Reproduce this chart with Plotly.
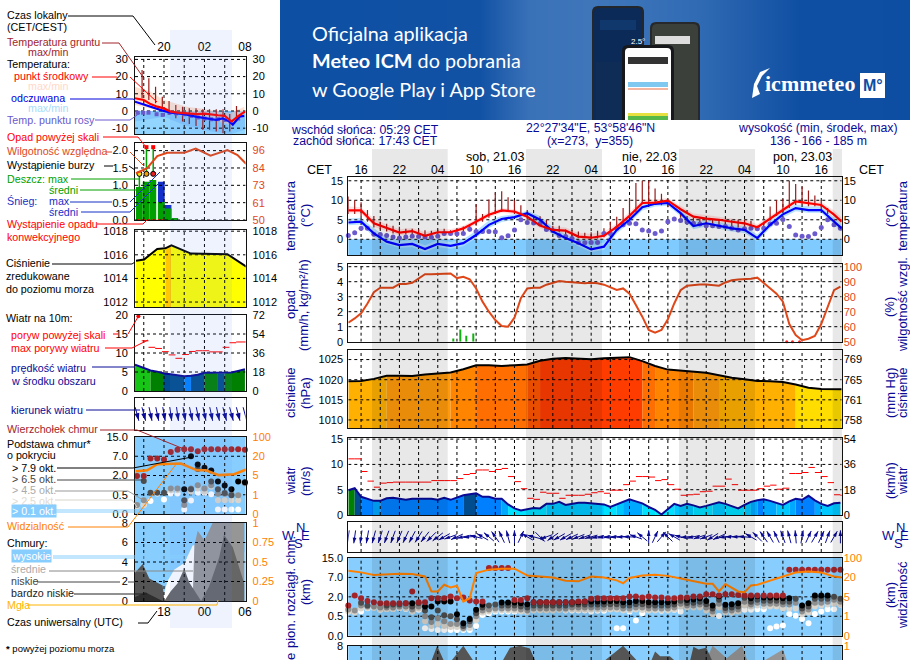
import math
import plotly.graph_objects as go

# ---------- time bases ----------
T1 = list(range(14, 92))                      # hourly, hours since 20.03 00:00 CET
T2 = list(range(14, 92, 2)) + [91.2]          # two-hourly readings
H1 = list(range(16, 33))                      # left legend panel, hours

# ---------- main chart series ----------
temp_mid = [7.4,7.4,4.1,2.8,1.7,2.1,0.9,1.8,1.8,2.8,4.5,6.3,7.4,7.1,5.8,3.5,2.4,2.2,0.7,0.4,0.9,3.2,6.0,9.3,9.4,9.9,7.7,5.8,5.3,5.0,4.5,4.1,3.1,5.4,7.5,9.7,9.3,8.8,6.3,4.5]
temp_max = [8.4,8.2,5.3,3.8,2.6,2.9,1.8,2.6,2.6,3.5,5.2,7,8,7.7,6.5,4.4,3.3,3,1.6,1.4,1.9,4.1,7,10.2,10.2,10.6,8.6,6.6,6.2,5.8,5.3,4.9,3.9,6.2,8.3,10.4,10.1,9.6,7.4,5.6]
temp_min = [6.6,6.6,3.2,2,1,1.3,0,1,1,2,3.8,5.6,6.8,6.4,5.1,2.8,1.6,1.4,-.1,-.4,.1,2.4,5.2,8.6,8.8,9.2,6.8,4.9,4.5,4.2,3.7,3.3,2.4,4.7,6.8,9,8.6,8,5.4,3.7]
feel_mid = [4.3,4.5,1.5,-0.6,-1.5,-1.2,-2.5,-1.2,-1.7,-1,1.1,3.7,5.2,5.7,6.7,5,2,0.3,-1,-2.6,-1.9,2.4,5,8.2,9.1,9.3,6.7,3.4,4.1,3.5,2.8,2.4,0.3,3.7,6.4,8,7.5,7.5,4.5,2.8]
feel_max = [5.3,5.5,2.8,0.5,-.5,-.2,-1.5,-.2,-.7,0,2.2,4.8,6,6.4,7.3,6,3,1.3,0,-1.5,-.8,3.5,6,9,9.5,9.7,7.5,4.6,4.9,4.4,3.7,3.3,1.2,4.8,7.2,8.9,8.5,8.4,5.6,3.8]
feel_min = [3.6,3.8,.6,-1.3,-2.2,-2,-3.3,-2,-2.4,-1.8,.3,2.9,4.4,5,6,4,1.2,-.5,-1.8,-3.3,-2.7,1.5,4.2,7.4,8.4,8.6,5.9,2.6,3.3,2.7,2,1.6,-.5,2.9,5.6,7.2,6.8,6.8,3.7,2]
dew = [1.0,1.7,2.8,2.8,1.3,1.2,1.0,0.6,0.3,0.6, 0.8,0.7,0.6,0.5,0.8,1.5,1.5,1.4,1.5,2.6,
       2.0,2.0,2.0,1.9,0.4,0.9,2.4,5.0,4.3,4.2, 4.0,2.5,2.2,1.0,0.7,0.2,-0.8,-0.9,-0.8,-0.8,
       1.5,1.5,2.8,3.7,4.1,4.0,2.4,2.1,1.5,2.1, 4.5,5.2,4.8,4.4,4.1,3.9,3.5,3.5,3.3,3.3,
       2.8,2.4,2.7,2.8,2.7,2.8,3.9,4.1,5.1,3.3, 1.1,0.8,0.7,1.4,3.0,5.0,3.7,2.8]
soil_max = [11,10,9.5,7.5,6,4.5,4,3.5,3.2,2.7, 2.7,2.5,2.3,2.2,2.3,2.7,2.3,2.6,3.3,3.5,
            9,6.5,10.2,12,12.3,10.8,10,8.7,7.5,6, 5.9,5,3.5,3.5,2.5,2.4,2,1.7,1.8,2.2,
            2.8,4.5,5.8,8,10.5,14.4,15,15,13,11.7, 9,7,6.5,5.5,5.5,5.3,5.2,5.1,5,5,
            5,5,5,4.7,3.5,4.5,8.4,10,10.3,15, 14.2,13.5,12.5,11.2,10,8,5,3.3]
soil_min = [6.5,6.5,6,4.5,3,2.5,2,1.5,1.2,1.2, 1.2,0.7,0.5,0.7,1,1,1,1.5,1.8,2,
            3.5,4.5,5.5,6.5,7,7,6.5,6,5,4, 3.5,2.5,2,1.8,1,0.5,0.3,0.3,0,0.2,
            0.5,1.5,2.5,4,5.5,7,9,9,9,8.7, 8.2,7,5.5,5,4.5,4.2,4,3.8,3.5,3.3,
            3.2,3,2.8,2.5,2.5,3.2,5,6,7,8, 8.8,9,8.5,8.5,7.5,6.5,4.5,3.3]
humidity = [62.7,65.5,69,75.5,83,86,86,86,88.5,88.5, 89.3,92,95,95,95,95.2,95.5,92.4,93.3,91.6,
            85.5,76.7,70,64.4,60.4,60,66,79,85.5,86, 86,88,89.5,90.5,90,89.5,89.5,89,89.3,89,
            88,86,84.5,85.5,82,74.4,66.7,57.8,56,57.8, 65,75.5,84.4,87.3,87.8,88.2,88.2,87.8,87.3,89.5,
            91,91.5,91.5,92,92.7,89,85.5,82,76.7,61.8, 54.4,51,52,53.8,61.8,73.3,84.4,86.7]
rain_t = [30.4, 31.5, 32.4, 33.5]
rain_v = [0.22, 0.82, 0.4, 0.55]
conv_t = [82.6, 83.5, 84.6]
conv_v = [0, 0, 0]
pressure = [1019.6,1019.7,1020.2,1021.0,1021.0,1020.9,1021.3,1021.5,1021.8,1022.6,1023.6,1023.6,1023.4,1023.6,1023.8,1024.7,1025.2,1025.4,1025.2,1025.1,1025.3,1025.5,1025.6,1024.6,1023.4,1022.5,1022.2,1022,1021.7,1021.1,1020.5,1020.1,1019.7,1019.6,1019.4,1018.8,1018,1017.7,1017.6,1017.6]
wind = [4.9,5.3,3.6,3.2,2.8,2.8,3.3,3.4,3.2,3, 3.2,3.2,3.2,3.2,3,3.4,3,3.4,3.9,4.1,
        4.3,3.6,3.6,3.2,3.2,2.1,1.3,0.9,1.2,1.4, 1.3,2.2,2.2,2.6,2,2.2,2.4,2.4,2.3,2.1,
        2.1,1.6,2.1,2.6,3.1,2.7,2.3,1.6,1,0.1, 1.2,2.2,1.8,2.2,1.9,1.5,1.8,2.1,2.5,2.2,
        1.7,1.3,2,2.6,2.9,3.1,2.8,2.4,2,2.7, 3.2,3,3.8,2.9,2.2,1.8,2.3,2.4]
gust = [11.1,11.1,8.6,6.7,5.5,6.3,6.4,6.5,6.5,6.5, 6.5,6.5,6.5,6.8,6.8,6.8,6.8,7.2,8,8.2,
        8.9,8.9,8.6,9,9.2,7.6,6.6,5.2,3.3,3.1, 4.5,4.3,4.3,3.3,3.9,3.9,3.9,4.1,4.4,4.6,
        4.3,4.9,4.9,6,6.7,7.6,7.6,7.5,6.8,7, 6,5.1,3.9,4,4.1,4.6,4.7,5.7,5.7,7.1,
        6,4.9,4.9,4.9,5.2,5.7,5.9,5.1,5.3,8.2, 8.2,8.4,9.4,8.4,7.6,6.4,4,3.9]
wind_dir = [188,188,188,190,195,198,200,200,203,205, 208,212,218,225,232,240,250,245,258,265,
            285,300,310,325,335,345,0,25,300,285, 135,250,235,240,240,245,248,250,255,258,
            260,262,265,268,272,290,310,0,25,40, 315,300,285,265,258,252,250,238,245,262,
            270,272,275,300,315,325,330,335,340,345, 355,10,25,30,25,20,30,0]
N = None
cloud_top = [1.55,2.07,1.93,1.79,1.72,1.67,1.67,1.67,1.67,1.67, 2.28,1.72,1.72,1.93,1.93,1.93,2.02,1.93,1.97,1.81,
             1.76,1.76,3.48,3.48,3.48,3.48,1.84,1.84,1.93,1.72, 1.72,1.72,1.72,1.72,1.72,1.72,1.76,1.76,1.9,1.93,
             1.93,1.93,1.93,1.93,2.02,2.02,1.97,2.02,1.97,1.97, 1.93,1.93,1.97,1.97,2.02,2.02,2.14,2.14,2.07,2.14,
             2.14,2.1,2.07,2.07,2.07,2.07,2.07,2.07,2.07,3.4, 3.4,3.4,3.4,3.4,3.4,3.4,3.4,3.4]
base_79 = [N,N,N,N,N,N,N,N,N,N, 1.67,N,1.5,1.5,1.76,1.76,1.76,1.1,.64,.86,
           1.33,1.59,N,N,1.71,1.71,1.71,1.67,1.62,1.72, 1.72,1.72,1.72,1.72,1.72,1.72,1.72,1.76,1.76,1.76,
           1.76,1.79,1.79,1.72,1.72,1.79,1.79,1.72,1.72,1.72, 1.72,1.76,N,1.84,1.86,1.93,1.79,1.55,2.03,1.59,
           1.62,1.67,N,1.93,2.03,1.97,1.97,1.97,1.93,1.93, N,1.55,1.67,2.07,2.07,2.07,N,N]
base_65 = [N,N,1.7,1.55,N,N,1.55,1.6,1.6,1.67, 1.5,1.67,1.3,.95,1.3,1.05,1.0,.85,.5,.75,
           1.15,1.45,1.55,1.6,1.55,1.55,1.55,1.5,1.45,1.55, 1.55,1.55,1.55,1.55,1.55,1.6,1.6,1.6,1.6,1.6,
           1.6,1.62,1.62,1.55,1.55,1.62,1.62,1.55,1.55,1.55, 1.55,1.6,1.8,1.68,1.7,1.75,1.62,1.4,1.85,1.42,
           1.45,1.5,1.95,1.75,1.85,1.8,1.8,1.8,1.75,1.75, 1.9,1.4,1.5,1.9,1.9,1.9,2.0,1.9]
base_45 = [1.35,1.3,1.55,1.5,1.5,1.45,1.45,1.45,1.5,1.5, 1.35,1.5,1.0,.7,.9,.75,.6,.6,.4,.55,
           1.0,1.3,1.35,1.4,1.4,1.4,1.4,1.35,1.3,1.4, 1.4,1.4,1.4,1.4,1.4,1.45,1.45,1.45,1.45,1.45,
           1.45,1.45,1.45,1.4,1.4,1.45,1.45,1.4,1.4,1.4, 1.4,1.45,1.65,1.55,1.55,1.6,1.45,1.25,1.65,1.3,
           1.3,1.35,1.75,1.6,1.7,1.65,1.65,1.65,1.6,1.6, 1.7,1.25,1.35,1.7,1.7,1.75,1.85,1.75]
base_25 = [1.25,1.2,1.4,1.42,1.42,1.35,1.38,1.38,1.42,1.4, 1.25,1.4,.75,.5,.6,.5,.45,.45,.35,.4,
           .8,1.2,1.25,1.3,1.3,1.3,1.3,1.25,1.22,1.3, 1.3,1.3,1.3,1.32,1.32,1.35,1.35,1.35,1.35,1.35,
           1.35,1.35,1.35,1.3,1.3,1.35,1.32,1.3,1.3,1.3, 1.3,1.35,1.5,1.45,1.45,1.45,1.3,1.1,1.45,1.2,
           1.2,1.25,1.55,1.5,1.55,1.5,1.5,1.5,1.4,1.4, 1.4,1.1,1.2,1.5,1.55,1.6,1.65,1.6]
base_01 = [1.24,1.29,1.24,1.41,1.45,1.33,1.38,1.38,1.41,1.38, 1.24,1.33,.38,.34,.29,.29,.29,.29,.29,.29,
           .5,1.07,1.16,1.24,1.24,1.24,1.24,1.33,1.24,1.33, 1.33,1.36,1.36,1.36,1.3,1.3,1.3,1.3,1.24,1.29,
           1.29,1.45,.38,.38,1.24,.78,1.16,1.38,1.33,1.29, 1.33,1.33,1.24,1.55,1.55,1.5,1.5,1.29,1.02,1.38,
           1.19,1.29,1.33,1.33,1.36,1.36,.38,.47,.52,1.12, 1.03,.86,.64,1.12,1.24,1.36,1.36,1.59]
vis_t = [14,16,18,20,22,24,26,27,28,29,30,31,32,33,34,36,38,40,42,44,46,48,50,52,54,56,57,58,60,62,64,66,68,70,71,72,73,75,76,77,78,80,82,84,86,88,90,91.2]
vis_v = [3.34,3.26,3.12,3.17,3.19,3.17,3.05,2.28,2.28,2.62,2.48,2.57,1.76,1.93,3.22,3.4,3.45,3.45,3.1,3.05,3,2.83,2.8,3.05,3,2.85,2.7,2.97,3.1,3.14,3.08,2.95,2.8,2.67,2.67,2.28,2.66,2.28,2.24,2.59,2.62,2.85,3.05,3.25,3.3,3.25,3.05,3.0]
low_t = [26,27.05,27.9,28.9,30.2,32,33.5,37.5,38.2,39.3,40.9,42.4,43.2,44.5,53.5,54.2,57,59.1,60.5,61.5,62,62.8,64.3,65,66.5,67.5,68,68.8,70,70.9,72]
low_v = [5,6.5,8,6.5,6.5,8,6.5,5,6.5,7.8,8,7.7,6.5,5,5,6.5,8,6.5,5,6.5,7.4,6.9,6.9,6.5,5,6.5,7.9,7.6,7.8,6.5,5]
mid_t = [69,70,71,73.2,75.6,76.4,78,79.2,82,82.6,84,87.4,88,88.6]
mid_v = [5,6.5,8,6.7,8,6.5,5,6.5,7.6,6.5,5,5,6.6,5]

# ---------- left (legend) panel series ----------
L_temp_h = [15.7,17,18,19,20,21,22,23,24,25,26,27,28,29,30,31,32]
L_temp = [7.4,6.4,4,2.5,1.5,-.4,-1,-1.3,-1.3,-1.8,-1.6,-2.2,-2.5,-2.8,-6.2,-3,-.4]
L_feel_h = [15.7,17.8,19.8,21,23,24.7,26.7,27.7,28.7,29.7,30.2,31.2,31.9]
L_feel = [5.4,2.5,.2,-1,-1.8,-3.3,-4.7,-5.2,-4.3,-6.2,-8,-3.3,-2.9]
L_pink_h = [15.7,18,20,23.4,26.2,29.8,31.9]
L_pink_hi = [14.1,11.2,6.4,2.5,1,-1.4,2.5]
L_pink_lo = [3.5,1.5,-.4,-2,-4.3,-8.1,-3.3]
L_cold_h = [15.7,20,23,27,30,32]
L_cold = [-6.2,-3.3,-8.1,-12,-13.4,-11]
L_soil_h = [16.75,17.75,18.75,19.75,20.75,21.75,22.75,23.75,24.75,25.75,26.75,27.75,28.75,29.75,30.75]
L_soil_hi = [23.8,19,14.1,8.3,5.8,3.5,2.5,1.6,1.6,1,1,1,1,-1.7,2.9]
L_soil_lo = [7.4,6.4,4.5,1,-2.3,-4.3,-6.2,-7.6,-8.7,-11,-11,-12,-13,-12,-6.2]
L_dew_h = [16.1,16.9,17.7,18.9,19.8,20.8,21.8,23,24,25,26,27,28,29,29.9,31]
L_dew = [-1,-1,-1,-1.9,-2.3,-1,-1.4,-1.9,-2.9,-3.8,-4.4,-4.8,-4.8,-5.2,-6.3,-4.4]
L_rain_h = [16.35,17.35,18.35,19.6,20.6,21.6]
L_rain = [.95,1.1,1.15,.52,.33,.05]
L_snow = [N,N,N,1.1,.43,N]
L_storm_h = [16.35,17.4,18.4]
L_storm = [1.33,1.33,1.33]
L_rainmax = [.95,2.1,2.1]
L_over_h = [17.4,18.4]
L_over = [2.1,2.1]
L_conv_h = [16.2,16.7,17.2,17.7,18.2,18.7,19.2,19.7]
L_conv = [0,0,0,0,0,0,0,0]
L_hum_h = [15.85,17.5,19,20.5,23,24.7,26.9,29.4,30.9,32.2]
L_hum = [80.7,84,92,94.2,94.2,97,92.3,96,92.7,86.8]
L_pres_h = [15.85,17.05,19,20.2,21.1,24,29.4,32.2]
L_pres = [1015.5,1015.6,1016.5,1016.55,1016.8,1016.1,1016.05,1015]
L_wind = [6.7,6,5.4,5.1,4.6,4.4,4.1,3.9,4,4.3,4.8,4.8,4.7,4.7,4.85,5.3,5.7]
L_gust_h = [16.7,17.7,18.7,19.7,20.7,21.7,22.7,23.7,24.7,25.7,26.7,27.7,28.7,29.7,30.7,31.7]
L_gust = [13.2,11.5,11.2,10.35,9.5,8.6,9.6,10.4,10.6,10.6,10.3,10.3,11.5,12.7,12.9,12.9]
L_over_w_h = [16.2]
L_over_w = [19.7]
L_dir = [165,165,168,168,170,172,172,170,168,168,168,168,168,165,165,165,165]
L_top = [1.98,1.98,2.88,2.88,2.83,3.22,3.34,3.36,3.36,3.26,3.36,3.36,3.36,3.36,3.36,3.36,3.34]
L_b79 = [N,N,N,N,N,N,N,1.28,3,2.57,2.4,2.26,1.69,1.48,1.28,1.69,1.65]
L_b65 = [N,1.71,1.1,1.1,1.1,N,N,.71,1.28,2.34,N,1.69,1.28,1.09,.97,N,N]
L_b45 = [.47,.72,N,N,N,1.33,1.33,.47,1.33,1.5,1.33,1.5,1.05,1.05,1.03,.98,1.6]
L_b25 = [.4,.47,N,N,N,1.24,1.24,N,1.16,1.33,1.16,1.41,.72,.72,.72,.72,N]
L_b01 = [N,.48,.67,1.07,.75,1.07,1.07,.24,.7,1.1,1.1,1.03,.24,.24,.24,.24,N]
L_vis_h = [15.85,17.5,19,22.5,24.9,26.2,28.1,30.4,32.2]
L_vis = [2.22,2.27,2.59,2.62,2.27,2.27,2.02,2.07,2.31]
L_hi_h = [19.7,20.5,21.5,23,24.25,25,31.9]
L_hi = [0,2,3.2,3.9,5.7,5.8,5]
L_md_h = [24.25,24.5,25,26,27.2,31.9]
L_md = [0,5.7,7.2,6.2,8,8]
L_lw_h = [20.05,21,22,23,23.75,25.5,26.7,28.2,28.9,30.2,31.9]
L_lw = [0,1,1.8,3.3,1.9,0,1.5,4.5,6.8,5.5,1.8]
L_vl_h = [15.7,16.84,17.82,19.8,20.05]
L_vl = [2.9,3.8,2.3,1.6,0]
L_fl_h = [15.7,17.3,17.8,19.8]
L_fl = [.4,.9,.7,0]
L_fog_h = [27.95,28.95,30,31.1]
L_fog = [1,1,1,1]

# ---------- labels ----------
R_day_ticks = [16,22,28,34,40,46,52,58,64,70,76,82,88]
R_day_text = ["16","22","04","10","16","22","04","10","16","22","04","10","16"]
night_bands = [(372,447.7),(526,602),(679,755),(832.7,842)]

FONT = "Liberation Sans"
NAVY = "#0a0a96"
HUM = "#e0481a"
ORANGE = "#ff8000"
SKY = "#87ceff"
BROWN = "#a3252a"
TICK = 11
LEG = 10.7

W, H = 910, 660
def px(x): return x / W
def py(y): return 1 - y / H

fig = go.Figure()
layout = dict(width=W, height=H, margin=dict(l=0, r=0, t=0, b=0, autoexpand=False), showlegend=False,
              paper_bgcolor="white", plot_bgcolor="rgba(0,0,0,0)", hovermode=False,
              barmode="overlay", font=dict(family=FONT, size=12, color="black"))
shapes, annots = [], []
panels = {}

def axname(kind, n): return kind + "axis" + ("" if n == 1 else str(n))
def ref(kind, n): return kind + ("" if n == 1 else str(n))

counter = [0]
def panel(name, x0, x1, top, bottom, xr, yr, xgrid, ygrid, lticks=None, ltext=None,
          rticks=None, rtext=None, rcolor="black", yr2=None, bg=None, lstand=4, rstand=6,
          xside=None, xticks=None, xtext=None, xstand=0):
    counter[0] += 1
    i = counter[0]
    xn, yn, y2n = i, 2 * i, 2 * i + 1
    xa = dict(domain=[px(x0), px(x1)], range=xr, anchor=ref("y", yn), showgrid=False, zeroline=False,
              showline=True, linecolor="#111", linewidth=1, mirror=True, ticks="", ticklen=0,
              showticklabels=False, fixedrange=True)
    if xside:
        xa.update(side=xside, showticklabels=True, tickvals=xticks, ticktext=xtext, tickangle=0,
                  tickfont=dict(family=FONT, size=12), ticklabelstandoff=xstand)
    ya = dict(domain=[max(0, py(bottom)), py(top)], range=yr, anchor=ref("x", xn), showgrid=False,
              zeroline=False, showline=True, linecolor="#111", linewidth=1, mirror=True, ticks="",
              tickvals=lticks if lticks is not None else [], ticktext=ltext if ltext is not None else [],
              tickfont=dict(family=FONT, size=TICK), ticklabelstandoff=lstand, fixedrange=True)
    y2 = dict(domain=ya["domain"], range=yr2 or yr, anchor=ref("x", xn), overlaying=ref("y", yn), side="right",
              showgrid=False, zeroline=False, showline=False, ticks="",
              tickvals=rticks if rticks is not None else [], ticktext=rtext if rtext is not None else [],
              tickfont=dict(family=FONT, size=TICK, color=rcolor), ticklabelstandoff=rstand, fixedrange=True)
    layout[axname("x", xn)] = xa
    layout[axname("y", yn)] = ya
    layout[axname("y", y2n)] = y2
    p = dict(x=ref("x", xn), y=ref("y", yn), y2=ref("y", y2n), xr=xr, yr=yr, x0=x0, x1=x1, top=top, bottom=bottom,
             xgrid=xgrid, ygrid=ygrid)
    panels[name] = p
    if bg:
        shapes.append(dict(type="rect", layer="below", xref=p["x"] + " domain", yref=p["y"] + " domain",
                           x0=0, x1=1, y0=0, y1=1, fillcolor=bg, line_width=0))
    # keep the overlay axis alive with a one-point line that paints nothing
    fig.add_trace(go.Scatter(x=[xr[0]], y=[(yr2 or yr)[0]], xaxis=p["x"], yaxis=p["y2"], mode="lines",
                             line=dict(width=0), showlegend=False))
    return p

def grid(p):
    xs, ys = [], []
    for g in p["xgrid"]:
        xs += [g, g, None]; ys += [p["yr"][0], p["yr"][1], None]
    for g in p["ygrid"]:
        xs += [p["xr"][0], p["xr"][1], None]; ys += [g, g, None]
    fig.add_trace(go.Scatter(x=xs, y=ys, xaxis=p["x"], yaxis=p["y"], mode="lines",
                             line=dict(color="black", width=1, dash="3px,3px")))

def line(p, x, y, color, width=2, second=False, shape="linear"):
    fig.add_trace(go.Scatter(x=x, y=y, xaxis=p["x"], yaxis=p["y2"] if second else p["y"], mode="lines",
                             line=dict(color=color, width=width, shape=shape), connectgaps=False))

def band(p, x, lo, hi, color):
    fig.add_trace(go.Scatter(x=list(x) + list(x)[::-1], y=list(hi) + list(lo)[::-1], xaxis=p["x"], yaxis=p["y"],
                             mode="lines", fill="toself", fillcolor=color, line=dict(width=0)))

def area(p, x, y, color):
    fig.add_trace(go.Scatter(x=x, y=y, xaxis=p["x"], yaxis=p["y"], mode="lines", fill="tozeroy",
                             fillcolor=color, line=dict(width=0)))

def dots(p, x, y, color, size=6, symbol="circle", linecolor=None, second=False):
    fig.add_trace(go.Scatter(x=x, y=y, xaxis=p["x"], yaxis=p["y2"] if second else p["y"], mode="markers", cliponaxis=False,
                             marker=dict(color=color, size=size, symbol=symbol,
                                         line=dict(width=1 if linecolor else 0, color=linecolor or color))))

def sticks(p, x, lo, hi, color, width=1):
    xs, ys = [], []
    for a, b, c in zip(x, lo, hi):
        if b is None or c is None:
            continue
        xs += [a, a, None]; ys += [b, c, None]
    line(p, xs, ys, color, width)

def coloured_area(p, x, y, pick):
    seg_x, seg_y, cur = [], [], None
    for k in range(len(x) - 1):
        c = pick((y[k] + y[k + 1]) / 2)
        if c != cur:
            if cur: area(p, seg_x, seg_y, cur)
            seg_x, seg_y, cur = [x[k]], [y[k]], c
        seg_x.append(x[k + 1]); seg_y.append(y[k + 1])
    area(p, seg_x, seg_y, cur)

def gust_steps(p, x, y, dx, color="red"):
    xs, ys = [], []
    for a, b in zip(x, y):
        xs += [a, a + dx, None]; ys += [b, b, None]
    line(p, xs, ys, color, 1)

def arrows(p, x, deg, length, head):
    hpx = (p["x1"] - p["x0"]) / (p["xr"][1] - p["xr"][0])
    vpx = (p["bottom"] - p["top"]) / (p["yr"][1] - p["yr"][0])
    sx, sy, hx, hy = [], [], [], []
    for a, d in zip(x, deg):
        r = math.radians(d)
        ox, oy = math.sin(r) * length / 2 / hpx, math.cos(r) * length / 2 / vpx
        sx += [a - ox, a + ox, None]; sy += [-oy, oy, None]
        hx.append(a + ox); hy.append(oy)
    fig.add_trace(go.Scatter(x=sx, y=sy, xaxis=p["x"], yaxis=p["y"], mode="lines", cliponaxis=False,
                             line=dict(color=NAVY, width=1)))
    fig.add_trace(go.Scatter(x=hx, y=hy, xaxis=p["x"], yaxis=p["y"], mode="markers", cliponaxis=False,
                             marker=dict(symbol="arrow", size=head, angle=deg, color=NAVY, line=dict(width=0))))

def pres_colour(v):
    for lim, c in [(1018.9, "#ffdd00"), (1020.9, "#ffb000"), (1022, "#ff9a0a"), (1023.5, "#ff8400"),
                   (1024.2, "#ff6e00"), (1024.8, "#ff5500")]:
        if v < lim: return c
    return "#ff3c00"

def wind_colour(v):
    for lim, c in [(1, "#00f0ff"), (2, "#00e0ff"), (2.5, "#00c8ff"), (3, "#00a8ff"), (3.97, "#0080ff"),
                   (4.75, "#004c8c"), (5.6, "#008000")]:
        if v < lim: return c
    return "#16c516"

def left_pres_colour(v):
    return "#ffc800" if v > 1016.6 else "#ffff00"

# ---------- banner ----------
grad_x = [280, 480, 530, 590, 640, 700, 735, 800, 910]
grad_c = ["#0c4fa3", "#1252a5", "#3a72b8", "#3f76ba", "#3a72b8", "#2f6ab3", "#2560ad", "#0f4fa3", "#0d4ea3"]
counter[0] += 1
bi = counter[0]
layout[axname("x", bi)] = dict(domain=[px(280), 1], range=[280, 910], visible=False, anchor=ref("y", 2 * bi), fixedrange=True)
layout[axname("y", 2 * bi)] = dict(domain=[py(120), 1], range=[0, 1], visible=False, anchor=ref("x", bi), fixedrange=True)
fig.add_trace(go.Heatmap(x=grad_x, y=[0, 1], z=[list(range(len(grad_x)))] * 2, xaxis=ref("x", bi), yaxis=ref("y", 2 * bi),
                         colorscale=[[k / (len(grad_c) - 1), c] for k, c in enumerate(grad_c)], showscale=False, zsmooth="best"))

# ---------- left column ----------
LX0, LX1 = 135, 245.6
LR = [15.7, 32.1]
LG = [17, 20, 23, 26, 29]
p = panel("L1", LX0, LX1, 57, 134, LR, [-13.4, 31.4], LG, [30, 20, 10, 0, -10],
          [30, 20, 10, 0, -10], ["30", "20", "10", "0", "-10"], [30, 20, 10, 0, -10], ["30", "20", "10", "0", "-10"],
          xside="top", xticks=[20, 26, 32], xtext=["20", "02", "08"])
shapes.append(dict(type="rect", layer="below", xref=p["x"] + " domain", yref=p["y"], x0=0, x1=1, y0=-13.4, y1=0, fillcolor="#92d6ff", line_width=0))
band(p, L_pink_h, L_pink_lo, L_pink_hi, "rgba(255,215,195,0.75)")
band(p, L_cold_h, L_cold, [0, 0, 0, 0, 0, 0], "rgba(70,140,235,0.22)")
grid(p)
sticks(p, L_soil_h, L_soil_lo, L_soil_hi, "#9a1a1a", 1.2)
dots(p, L_dew_h, L_dew, "#6a5acd", 4, "square")
line(p, L_feel_h, L_feel, "#0000ff", 2.2)
line(p, L_temp_h, L_temp, "#ff0000", 2.2)

p = panel("L2", LX0, LX1, 143, 220, LR, [0, 2.22], LG, [2, 1.5, 1, .5, 0],
          [2, 1.5, 1, .5, 0], ["2.0", "1.5", "1.0", "0.5", "0.0"], [96, 84, 73, 61, 50], ["96", "84", "73", "61", "50"],
          rcolor=HUM, yr2=[50, 100.6])
fig.add_trace(go.Bar(x=L_rain_h, y=L_snow, width=1, marker=dict(color="#1530c8", line_width=0), xaxis=p["x"], yaxis=p["y"]))
fig.add_trace(go.Bar(x=L_rain_h, y=L_rain, width=1, marker=dict(color="#00a000", line_width=0), xaxis=p["x"], yaxis=p["y"]))
grid(p)
sticks(p, L_storm_h, L_storm, L_rainmax, "#00a000", 1.5)
dots(p, L_over_h, L_over, "#ff0000", 4, "square")
dots(p, L_storm_h, L_storm, ["#ffe600", "#f0a000", "#e82020"], 5, linecolor="black")
dots(p, L_conv_h, L_conv, "#ff0000", 2)
line(p, L_hum_h, L_hum, HUM, 2, second=True)

p = panel("L3", LX0, LX1, 230, 307, LR, [1011.58, 1018.1], LG, [1018, 1016, 1014, 1012],
          [1018, 1016, 1014, 1012], ["1018", "1016", "1014", "1012"], [1018, 1016, 1014, 1012], ["1018", "1016", "1014", "1012"])
coloured_area(p, L_pres_h, L_pres, left_pres_colour)
grid(p)
line(p, L_pres_h, L_pres, "black", 2)

p = panel("L4", LX0, LX1, 315, 391, LR, [0, 20], LG, [15, 10, 5],
          [20, 15, 10, 5, 0], ["20", "15", "10", "5", "0"], [20, 15, 10, 5, 0], ["72", "54", "36", "18", "0"])
coloured_area(p, [15.7] + H1, [6.9] + L_wind, wind_colour)
grid(p)
gust_steps(p, L_gust_h, L_gust, 1)
dots(p, L_over_w_h, L_over_w, "#ff0000", 4)
line(p, [15.7] + H1, [6.9] + L_wind, NAVY, 2)

p = panel("L5", LX0, LX1, 398, 430, LR, [-1, 1], LG, [])
grid(p)
arrows(p, H1, L_dir, 14, 8)

p = panel("L6", LX0, LX1, 437, 514, LR, [0, 4], LG, [3, 2, 1],
          [4, 3, 2, 1, 0], ["15.0", "7.0", "2.0", "0.5", "0.0"], [4, 3, 2, 1, 0], ["100", "20", "5", "1", "0"], rcolor=ORANGE, bg=SKY)
grid(p)
for series, col in [(L_b01, "white"), (L_b25, "#d9d5cc"), (L_b45, "#8f8f8f"), (L_b65, "#4d4d4d"), (L_b79, "black"), (L_top, BROWN)]:
    dots(p, H1, series, col, 6)
line(p, L_vis_h, L_vis, ORANGE, 2.5)

p = panel("L7", LX0, LX1, 523, 601, LR, [0, 8], LG, [6, 4, 2],
          [8, 6, 4, 2, 0], ["8", "6", "4", "2", "0"], [8, 6, 4, 2, 0], ["1", "0.75", "0.5", "0.25", "0"], rcolor=ORANGE, bg=SKY,
          xside="bottom", xticks=[20, 26, 32], xtext=["18", "00", "06"])
area(p, L_hi_h, L_hi, "white")
area(p, L_md_h, L_md, "#969696")
area(p, L_lw_h, L_lw, "#666666")
area(p, L_vl_h, L_vl, "#555555")
area(p, L_fl_h, L_fl, "#2e2e2e")
fig.add_trace(go.Bar(x=L_fog_h, y=L_fog, width=0.35, marker=dict(color="#ffb400", line_width=0), xaxis=p["x"], yaxis=p["y"]))
grid(p)

# ---------- right column ----------
RX0, RX1 = 348.3, 841.7
RR = [14, 91.2]
RG = list(range(16, 91, 3))
p = panel("R1", RX0, RX1, 177, 255, RR, [-4.03, 15.97], RG, [15, 10, 5, 0],
          [15, 10, 5, 0], ["15", "10", "5", "0"], [15, 10, 5, 0], ["15", "10", "5", "0"],
          lstand=2, rstand=1, xside="top", xticks=R_day_ticks, xtext=R_day_text, xstand=-3)
shapes.append(dict(type="rect", layer="below", xref=p["x"] + " domain", yref=p["y"], x0=0, x1=1, y0=-4.03, y1=0, fillcolor="#7fcbff", line_width=0))
band(p, T2, temp_min, temp_max, "rgba(255,200,200,0.55)")
band(p, T2, feel_min, feel_max, "rgba(170,220,255,0.85)")
grid(p)
sticks(p, T1, soil_min, soil_max, "#9a1a1a", 1.2)
dots(p, T1, dew, "#6a5acd", 5)
line(p, T2, feel_mid, "#0000ff", 2.2)
line(p, T2, temp_mid, "#ff0000", 2.2)

p = panel("R2", RX0, RX1, 264, 341.7, RR, [0, 5.18], RG, [5, 4, 3, 2, 1],
          [5, 4, 3, 2, 1, 0], ["5", "4", "3", "2", "1", "0"], [100, 90, 80, 70, 60, 50], ["100", "90", "80", "70", "60", "50"],
          rcolor=HUM, yr2=[50, 101.8], lstand=2, rstand=1)
fig.add_trace(go.Bar(x=rain_t, y=rain_v, width=0.14, marker=dict(color="#10b010", line_width=0), xaxis=p["x"], yaxis=p["y"]))
grid(p)
dots(p, conv_t, conv_v, "#ff2020", 3)
line(p, T1, humidity, HUM, 2, second=True)

p = panel("R3", RX0, RX1, 350.3, 428, RR, [1008, 1027.3], RG, [1025, 1020, 1015, 1010],
          [1025, 1020, 1015, 1010], ["1025", "1020", "1015", "1010"], [1025, 1020, 1015, 1010], ["769", "765", "761", "758"],
          lstand=2, rstand=1)
coloured_area(p, T2, pressure, pres_colour)
grid(p)
line(p, T2, pressure, "black", 2)

p = panel("R4", RX0, RX1, 437.7, 515, RR, [0, 15.28], RG, [15, 10, 5],
          [15, 10, 5, 0], ["15", "10", "5", "0"], [15, 10, 5, 0], ["54", "36", "18", "0"], lstand=2, rstand=1)
coloured_area(p, T1, wind, wind_colour)
grid(p)
gust_steps(p, T1, gust, 1)
line(p, T1, wind, NAVY, 2)

p = panel("R5", RX0, RX1, 521.7, 552, RR, [-1, 1], RG, [])
grid(p)
arrows(p, T1, wind_dir, 13, 6)

p = panel("R6", RX0, RX1, 558, 635.7, RR, [0, 4], RG, [3, 2, 1],
          [4, 3, 2, 1, 0], ["15.0", "7.0", "2.0", "0.5", "0.0"], [4, 3, 2, 1, 0], ["100", "20", "5", "1", "0"], rcolor=ORANGE,
          bg=SKY, lstand=2, rstand=1)
grid(p)
for series, col in [(base_01, "white"), (base_25, "#d9d5cc"), (base_45, "#8f8f8f"), (base_65, "#4d4d4d"), (base_79, "black"), (cloud_top, BROWN)]:
    dots(p, T1, series, col, 6)
line(p, vis_t, vis_v, ORANGE, 2)

p = panel("R7", RX0, RX1, 645.7, 660, RR, [6.515, 8], RG, [],
          [8], ["8"], [8], ["1"], rcolor=ORANGE, bg=SKY, lstand=2, rstand=1)
area(p, mid_t, mid_v, "#969696")
area(p, low_t, low_v, "#555555")
grid(p)

# ---------- shading across the panels ----------
for a, b in night_bands:
    shapes.append(dict(type="rect", layer="above", xref="paper", yref="paper", x0=px(a), x1=px(b), y0=0, y1=py(149),
                       fillcolor="rgba(0,0,0,0.09)", line_width=0))
shapes.append(dict(type="rect", layer="above", xref="paper", yref="paper", x0=px(170), x1=px(232), y0=py(628), y1=py(30),
                   fillcolor="rgba(85,135,235,0.10)", line_width=0))

# ---------- leader lines ----------
def lead(color, *pts, width=1):
    for (a, b), (c, d) in zip(pts, pts[1:]):
        shapes.append(dict(type="line", layer="above", xref="paper", yref="paper", x0=px(a), y0=py(b), x1=px(c), y1=py(d),
                           line=dict(color=color, width=width)))

lead("black", (68, 16), (133, 16), (155, 45))
lead(BROWN, (102, 43), (119, 43), (143, 77))
lead("red", (92, 77), (117, 77)); lead("red", (130, 77), (157, 102))
lead("#0000dd", (70, 99), (133, 99), (135, 100))
lead("#6a5acd", (95, 120), (130, 120), (140, 113))
lead("red", (103, 137), (138, 137), (146, 147))
lead(HUM, (106, 152), (112, 152)); lead(HUM, (130, 152), (143, 165))
lead("black", (104, 166), (113, 166)); lead("black", (129, 166), (135, 170))
lead("#00a000", (71, 179), (139, 179))
lead("#00a000", (80, 190), (145, 190))
lead("#1530c8", (70, 202), (112, 202)); lead("#1530c8", (130, 202), (160, 172))
lead("#1530c8", (81, 212), (130, 212), (160, 182))
lead("red", (97, 224), (143, 224), (147, 220))
lead("black", (52, 264), (132, 264), (135, 262))
lead("red", (113, 334), (118, 334)); lead("red", (128, 334), (138, 317))
lead("red", (105, 348), (132, 348), (148, 340))
lead(NAVY, (92, 367), (135, 367))
lead(NAVY, (86, 410), (140, 410))
lead(BROWN, (100, 430), (137, 430), (184, 449))
lead("black", (57, 468), (133, 468), (192, 457))
lead("#444444", (57, 480), (143, 480))
lead("#999999", (55, 491), (128, 491), (143, 500))
lead("#d9d5cc", (55, 500), (132, 500), (137, 507))
lead(SKY, (55, 510), (137, 510)); lead(SKY, (55, 512), (137, 512))
lead(ORANGE, (68, 527), (128, 527), (177, 463))
lead(SKY, (53, 556), (187, 556)); lead(SKY, (53, 558), (187, 558))
lead("#888888", (49, 571), (193, 571))
lead("#444444", (37, 582), (120, 582)); lead("#444444", (128, 582), (135, 582))
lead("#222222", (74, 594), (147, 594))
lead("#ffb400", (27, 605), (217, 605), (218, 600))
lead("black", (138, 623), (148, 623), (157, 611))

# ---------- text ----------
def t(x, y, s, color="black", size=12, anchor="left", angle=0, bg=None, family=FONT):
    a = dict(xref="paper", yref="paper", x=px(x), y=py(y), text=s, showarrow=False, xanchor=anchor, yanchor="middle",
             textangle=angle, font=dict(family=family, size=size, color=color), borderpad=0)
    if bg: a["bgcolor"] = bg
    annots.append(a)

LBL = [
 (6,15,"Czas lokalny","black"),(6,27,"(CET/CEST)","black"),(6,42,"Temperatura gruntu",BROWN),(27,52,"max/min",BROWN),
 (6,64,"Temperatura:","black"),(13,76,"punkt środkowy","red"),(27,86,"max/min","#ffd9c8"),(10,98,"odczuwana","#0000dd"),
 (27,108,"max/min","#a8dcf8"),(6,120,"Temp. punktu rosy","#6a5acd"),(6,137,"Opad powyżej skali","red"),
 (6,151,"Wilgotność względna",HUM),(6,165,"Wystąpienie burzy","black"),(6,179,"Deszcz: max","#00a000"),(48,190,"średni","#00a000"),
 (6,201,"Śnieg:","#1530c8"),(48,201,"max","#1530c8"),(48,212,"średni","#1530c8"),(6,224,"Wystąpienie opadu","red"),(6,237,"konwekcyjnego","red"),
 (5,263,"Ciśnienie","black"),(5,276,"zredukowane","black"),(5,289,"do poziomu morza","black"),(5,318,"Wiatr na 10m:","black"),
 (10,335,"poryw powyżej skali","red"),(10,348,"max porywy wiatru","red"),(10,368,"prędkość wiatru",NAVY),(10,381,"w środku obszaru",NAVY),
 (10,410,"kierunek wiatru",NAVY),(6,429,"Wierzchołek chmur",BROWN),(6,444,"Podstawa chmur*","black"),(6,455,"o pokryciu","black"),
 (11,468,"> 7.9 okt.","black"),(11,479,"> 6.5 okt.","#444444"),(11,490,"> 4.5 okt.","#aaaaaa"),(11,501,"> 2.5 okt.","#e0dcd4"),
 (6,526,"Widzialność",ORANGE),(6,543,"Chmury:","black"),(10,569,"średnie","#aaaaaa"),(10,581,"niskie","#444444"),(10,593,"bardzo niskie","#222222"),
 (6,605,"Mgła","#ffb400"),(6,622,"Czas uniwersalny (UTC)","black"),
]
for x, y, s, c in LBL:
    t(x, y, s, c, LEG)
t(11, 511, "> 0.1 okt.", "white", LEG, bg=SKY)
t(11, 556, "wysokie", "white", LEG, bg=SKY)
t(5, 648, "<b>*</b> powyżej poziomu morza", "black", 9.5)

HDR = 12.3
t(290, 130, "wschód słońca: 05:29 CET", NAVY, HDR)
t(292, 141, "zachód słońca: 17:43 CET", NAVY, HDR)
t(590, 128, "22°27'34\"E, 53°58'46\"N", NAVY, HDR, anchor="center")
t(590, 141, "(x=273,\u00a0\u00a0y=355)", NAVY, HDR, anchor="center")
t(818, 128, "wysokość (min, środek, max)", NAVY, HDR, anchor="center")
t(818, 141, "136 - 166 - 185 m", NAVY, HDR, anchor="center")
t(495, 157, "sob, 21.03", anchor="center", size=12.5)
t(649, 157, "nie, 22.03", anchor="center", size=12.5)
t(802, 157, "pon, 23.03", anchor="center", size=12.5)
t(319, 170, "CET", anchor="center", size=12.5)
t(871, 170, "CET", anchor="center", size=12.5)

for x, y, s, c in [(290,216,"temperatura",NAVY),(305,216,"(°C)",NAVY),(290,305,"opad",NAVY),(303,305,"(mm/h, kg/m²/h)",NAVY),
                   (290,393,"ciśnienie",NAVY),(305,393,"(hPa)",NAVY),(290,481,"wiatr",NAVY),(305,481,"(m/s)",NAVY),
                   (290,592,"pion. rozciągł. chm.",NAVY),(305,592,"(km)",NAVY),(290,657,"e",NAVY),
                   (902,216,"temperatura",NAVY),(890,216,"(°C)",NAVY),(902,305,"wilgotność wzgl.",NAVY),(890,307,"(%)",NAVY),
                   (902,393,"ciśnienie",NAVY),(890,393,"(mm Hg)",NAVY),(902,481,"wiatr",NAVY),(890,481,"(km/h)",NAVY),
                   (902,595,"widzialność",NAVY),(890,595,"(km)",NAVY)]:
    t(x, y, s, c, size=13, anchor="center", angle=-90)
for x, y, s in [(288,535,"W"),(298,543,"S"),(300,527,"N"),(305,535,"E"),(888,535,"W"),(898,543,"S"),(900,527,"N"),(904,535,"E")]:
    t(x, y, s, NAVY, size=13, anchor="center")

# ---------- banner artwork ----------
def rrect(x0, y0, x1, y1, r, fill):
    a, b, c, d = px(x0), py(y0), px(x1), py(y1)
    rx, ry = r / W, r / H
    path = (f"M{a+rx},{b} L{c-rx},{b} Q{c},{b} {c},{b-ry} L{c},{d} L{a},{d} L{a},{b-ry} Q{a},{b} {a+rx},{b} Z")
    shapes.append(dict(type="path", path=path, xref="paper", yref="paper", layer="above", fillcolor=fill, line_width=0))
def box(x0, y0, x1, y1, fill):
    shapes.append(dict(type="rect", xref="paper", yref="paper", layer="above", x0=px(x0), x1=px(x1), y0=py(y1), y1=py(y0),
                       fillcolor=fill, line_width=0))

rrect(592, 6, 644, 120, 6, "#23262b")
rrect(594, 8, 642, 120, 5, "#0b2a57")
box(600, 20, 636, 30, "#11386c")
box(596, 62, 640, 120, "#0e2c55")
rrect(650, 22, 700, 120, 6, "#26282b")
rrect(652, 24, 698, 120, 5, "#3c403a")
box(655, 36, 690, 44, "#dddddd")
rrect(622, 45, 674, 120, 6, "#16181b")
rrect(625, 48, 671, 120, 4, "#ffffff")
box(628, 57, 668, 64, "#333333")
box(628, 82, 668, 87, "#7fc8f0")
box(628, 88, 668, 90, "#f4b6a0")
box(628, 113, 668, 116, "#e6e040")
box(628, 116, 668, 120, "#55b848")
box(860, 73, 885, 98, "#ffffff")
sw = [(770, 68), (760, 72), (754, 84), (752, 98), (760, 94), (757, 86), (762, 76)]
path = "M" + " L".join(f"{px(a)},{py(b)}" for a, b in sw) + " Z"
shapes.append(dict(type="path", path=path, xref="paper", yref="paper", layer="above", fillcolor="white", line_width=0))

BF = "Lato"
t(310.5, 33, "Oficjalna aplikacja", "white", 19.8, family=BF)
t(310.5, 60, "<b>Meteo ICM</b> do pobrania", "white", 19.8, family=BF)
t(310.5, 89, "w Google Play i App Store", "white", 19.8, family=BF)
t(764, 84, "<b>icmmeteo</b>", "white", 22, family="Liberation Sans Narrow")
t(872.5, 85, "<b>M°</b>", "#0d4ea3", 16, anchor="center")
t(630, 41, "2.5°", "white", 8)

layout["shapes"] = shapes
layout["annotations"] = annots
fig.update_layout(**layout)
fig.write_html("out.html", config=dict(displayModeBar=False),
               post_script="document.body.style.margin='0';document.body.style.overflow='hidden';")
